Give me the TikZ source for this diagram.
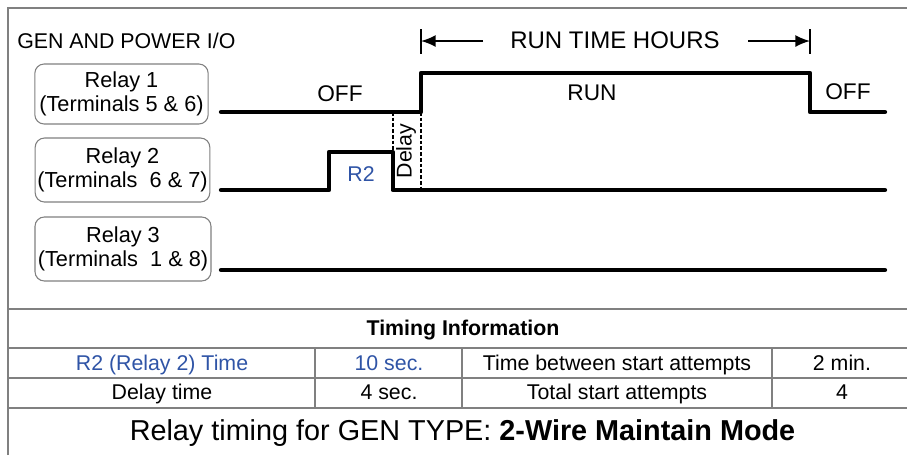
\documentclass[tikz,border=0pt]{standalone}
\usepackage{fontspec}
\setmainfont{Liberation Sans}
\usetikzlibrary{arrows.meta}

\definecolor{framegray}{RGB}{128,128,128}
\definecolor{relayblue}{RGB}{47,84,166}

\tikzset{
  frameline/.style={color=framegray,line width=1.5pt},
  relaybox/.style={draw=framegray,line width=0.8pt,rounded corners=7pt,align=center,
    inner sep=0pt,font=\fontsize{16.3}{17.5}\selectfont},
  signal/.style={line width=3.2pt,line cap=round,line join=round},
  delayline/.style={line width=1.7pt,dash pattern=on 2.8pt off 1.5pt},
  lbl/.style={anchor=base,inner sep=0.75pt,font=\fontsize{16}{18}\selectfont},
  runarrow/.style={line width=1.3pt,-{Latex[length=11pt,width=9pt]}},
}

\begin{document}
\begin{tikzpicture}[x=0.75pt,y=0.75pt,yscale=-1,xscale=1]
\useasboundingbox (0,0) rectangle (907,455);

% Frame
\draw [frameline] (8,455) -- (8,8) -- (907,8) ;

% Title
\node (title) [lbl,anchor=base west] at (16,48) {GEN AND POWER I/O};

% Relay boxes
\node (relay1) [relaybox,minimum width=130pt,minimum height=45pt] at (121.5,94) {Relay 1\\(Terminals 5 \& 6)};
\node (relay2) [relaybox,minimum width=131pt,minimum height=48pt] at (122.5,170) {Relay 2\\(Terminals\ \ 6 \& 7)};
\node (relay3) [relaybox,minimum width=132pt,minimum height=48pt] at (123,249) {Relay 3\\(Terminals\ \ 1 \& 8)};

% Run time marks
\coordinate (runL) at (421,41);
\coordinate (runR) at (810,41);
\draw [line width=0.8pt] (421,29) -- (421,54) ;
\draw [line width=0.8pt] (810,29) -- (810,54) ;
\node (runtime) [lbl,font=\fontsize{18}{20}\selectfont] at (615,48) {RUN TIME HOURS};
\draw [runarrow] (483,41) -- (runL) ;
\draw [runarrow] (748,41) -- (runR) ;

% Relay 1 signal
\draw [signal] (221,112) -- (421,112) -- (421,73) -- (810,73) -- (810,112) -- (885,112) ;
% Relay 2 signal
\draw [signal] (221,190) -- (329,190) -- (329,152) -- (392.7,152) -- (392.7,190) -- (885,190) ;
% Relay 3 signal
\draw [signal] (221,270) -- (885,270) ;

% Delay
\draw [delayline] (392.7,112) -- (392.7,190) ;
\draw [delayline] (420.7,112) -- (420.7,190) ;
\node (delay) [inner sep=0pt,rotate=90,font=\fontsize{16}{18}\selectfont] at (406,151) {Delay};

% Text Node
\node (off1) [lbl,font=\fontsize{17}{19}\selectfont] at (340,101.7) {OFF};
\node (run) [lbl,font=\fontsize{17}{19}\selectfont] at (592,100.7) {RUN};
\node (off2) [lbl,font=\fontsize{17}{19}\selectfont] at (848,99.3) {OFF};
\node (r2) [lbl,text=relayblue] at (361,181.7) {R2};

% Table
\draw [frameline] (8,308.5) -- (907,308.5) ;
\draw [frameline] (8,348) -- (907,348) ;
\draw [frameline] (8,378) -- (907,378) ;
\draw [frameline] (8,408) -- (907,408) ;
\foreach \xc in {315,462,772}
  \draw [frameline] (\xc,348) -- (\xc,408) ;

\node (timinghdr) [lbl,font=\fontsize{16}{18}\bfseries] at (463,335) {Timing Information};
\node (r2time) [lbl,text=relayblue] at (162,370) {R2 (Relay 2) Time};
\node (r2val) [lbl,text=relayblue] at (389,370) {10 sec.};
\node (gaptime) [lbl] at (617,370) {Time between start attempts};
\node (gapval) [lbl] at (842,370) {2 min.};
\node (delaytime) [lbl] at (162,399) {Delay time};
\node (delayval) [lbl] at (389,399) {4 sec.};
\node (attempts) [lbl] at (617,399) {Total start attempts};
\node (attemptsval) [lbl] at (842,399) {4};

% Caption
\node (caption) [lbl,font=\fontsize{21.6}{24}\selectfont] at (462.5,440.7) {Relay timing for GEN TYPE: \textbf{2-Wire Maintain Mode}};

\end{tikzpicture}
\end{document}
